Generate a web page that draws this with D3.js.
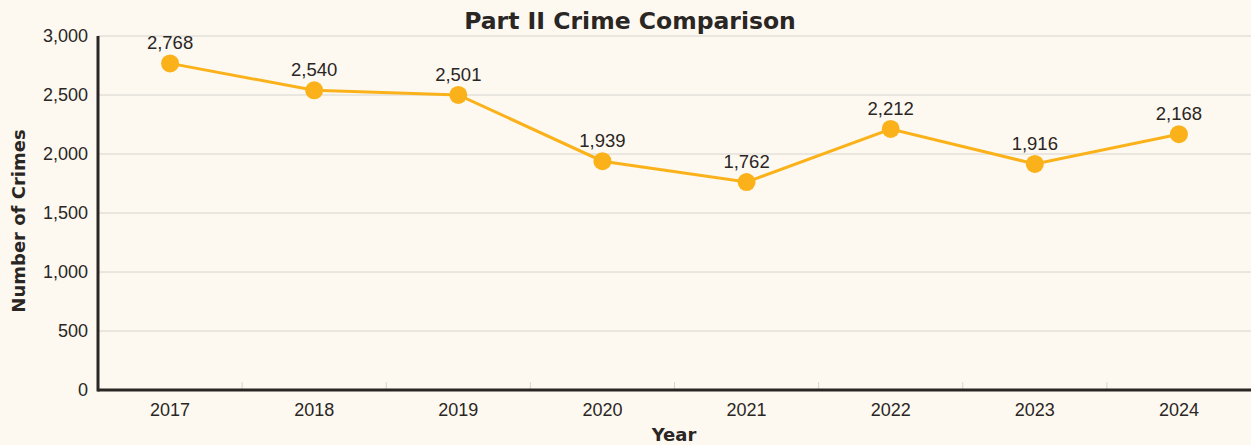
<!DOCTYPE html>
<html>
<head>
<meta charset="utf-8">
<script src="https://cdn.jsdelivr.net/npm/d3@7"></script>
<style>
  html, body { margin: 0; padding: 0; background: #fdf9f1; }
  svg { display: block; }
</style>
</head>
<body>
<svg id="chart"></svg>
<script>
// data
var years = ["2017", "2018", "2019", "2020", "2021", "2022", "2023", "2024"]
var crimes = [2768, 2540, 2501, 1939, 1762, 2212, 1916, 2168]
var yTicks = [0, 500, 1000, 1500, 2000, 2500, 3000]

var W = 1251, H = 445
var m = {top: 36, right: 0, bottom: 55, left: 98}
var ink = "#2a2624"
var labelFont = "Liberation Sans, Arial, sans-serif"
var heavyFont = "DejaVu Sans, sans-serif"

var svg = d3.select("#chart").attr("width", W).attr("height", H)

svg.append("rect").attr("width", W).attr("height", H).attr("fill", "#fdf9f1")

var x = d3.scaleBand().domain(years).range([m.left, W - m.right])
var y = d3.scaleLinear().domain([0, 3000]).range([H - m.bottom, m.top])

var fmt = d3.format(",")

/// gridlines
svg.append("g")
  .selectAll("line")
  .data(yTicks.slice(1))
  .join("line")
  .attr("x1", m.left).attr("x2", W)
  .attr("y1", d => y(d)).attr("y2", d => y(d))
  .attr("stroke", "#d6d4cf").attr("stroke-width", 1)

/// y axis labels
svg.append("g")
  .selectAll("text")
  .data(yTicks)
  .join("text")
  .attr("x", m.left - 10)
  .attr("y", d => y(d))
  .attr("dy", "0.35em")
  .attr("text-anchor", "end")
  .attr("font-family", labelFont)
  .attr("font-size", 18)
  .attr("fill", ink)
  .text(fmt)

/// small ticks at band boundaries
svg.append("g")
  .selectAll("line")
  .data(years.slice(1))
  .join("line")
  .attr("x1", d => x(d)).attr("x2", d => x(d))
  .attr("y1", y(0)).attr("y2", y(0) - 8)
  .attr("stroke", "#d6d4cf").attr("stroke-width", 1)

/// x axis labels
svg.append("g")
  .selectAll("text")
  .data(years)
  .join("text")
  .attr("x", d => x(d) + x.bandwidth() / 2)
  .attr("y", y(0) + 26)
  .attr("text-anchor", "middle")
  .attr("font-family", labelFont)
  .attr("font-size", 18)
  .attr("fill", ink)
  .text(d => d)

/// axis lines
svg.append("line")
  .attr("x1", m.left).attr("x2", m.left)
  .attr("y1", m.top).attr("y2", y(0) + 1.5)
  .attr("stroke", ink).attr("stroke-width", 3)
svg.append("line")
  .attr("x1", m.left).attr("x2", W)
  .attr("y1", y(0)).attr("y2", y(0))
  .attr("stroke", ink).attr("stroke-width", 3)

/// line + points
var pts = years.map((d, i) => ({year: d, v: crimes[i]}))
var cx = d => x(d.year) + x.bandwidth() / 2

svg.append("path")
  .datum(pts)
  .attr("fill", "none")
  .attr("stroke", "#fbb21a")
  .attr("stroke-width", 3)
  .attr("d", d3.line().x(cx).y(d => y(d.v)))

svg.append("g")
  .selectAll("circle")
  .data(pts)
  .join("circle")
  .attr("cx", cx).attr("cy", d => y(d.v))
  .attr("r", 9)
  .attr("fill", "#fbb21a")

svg.append("g")
  .selectAll("text")
  .data(pts)
  .join("text")
  .attr("x", cx)
  .attr("y", d => y(d.v) - 14)
  .attr("text-anchor", "middle")
  .attr("font-family", labelFont)
  .attr("font-size", 18.5)
  .attr("fill", ink)
  .text(d => fmt(d.v))

/// titles
svg.append("text")
  .attr("x", 630).attr("y", 29)
  .attr("text-anchor", "middle")
  .attr("font-family", heavyFont)
  .attr("font-weight", "bold")
  .attr("font-size", 23.5)
  .attr("fill", ink)
  .text("Part II Crime Comparison")

svg.append("text")
  .attr("x", 674).attr("y", 441)
  .attr("text-anchor", "middle")
  .attr("font-family", heavyFont)
  .attr("font-weight", "bold")
  .attr("font-size", 18)
  .attr("fill", ink)
  .text("Year")

svg.append("text")
  .attr("transform", "translate(25,221) rotate(-90)")
  .attr("text-anchor", "middle")
  .attr("font-family", heavyFont)
  .attr("font-weight", "bold")
  .attr("font-size", 18)
  .attr("fill", ink)
  .text("Number of Crimes")
</script>
</body>
</html>
